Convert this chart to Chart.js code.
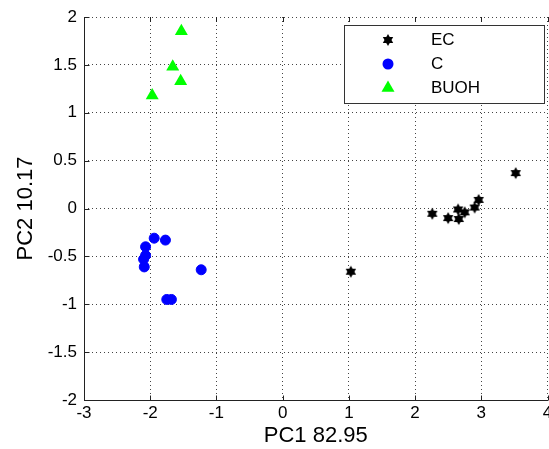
<!DOCTYPE html>
<html>
<head>
<meta charset="utf-8">
<script src="https://cdn.jsdelivr.net/npm/chart.js@4.4.1/dist/chart.umd.min.js"></script>
<style>
  body { margin: 0; background: #fff; }
  /* the reference is cropped on the right, the "4" label is cut off */
  #wrap { width: 549px; height: 449px; overflow: hidden; }
</style>
</head>
<body>
<div id="wrap"><canvas id="chart" width="555" height="449"></canvas></div>
<script>
const seriesNames = ['EC', 'C', 'BUOH'];

const ecX = [1.03, 2.26, 2.50, 2.65, 2.66, 2.75, 2.90, 2.96, 3.52];
const ecY = [-0.66, -0.055, -0.10, -0.01, -0.11, -0.04, 0.01, 0.09, 0.37];

const cX = [-1.94, -1.77, -2.07, -2.07, -2.10, -2.09, -1.23, -1.75, -1.68];
const cY = [-0.31, -0.33, -0.40, -0.49, -0.53, -0.61, -0.64, -0.95, -0.95];

const buohX = [-1.53, -1.66, -1.54, -1.97];
const buohY = [1.85, 1.48, 1.33, 1.18];

const xTicks = [-3, -2, -1, 0, 1, 2, 3, 4];
const yTicks = [-2, -1.5, -1, -0.5, 0, 0.5, 1, 1.5, 2];
const xTitle = 'PC1 82.95';
const yTitle = 'PC2 10.17';

const FONT = '"Liberation Sans", Arial, sans-serif';
Chart.defaults.font.family = FONT;

// MATLAB style six pointed star
function hexagram(r, color) {
    const size = Math.ceil(r * 2 + 2);
    const c = document.createElement('canvas');
    c.width = size;
    c.height = size;
    const g = c.getContext('2d');
    g.fillStyle = color;
    [0, Math.PI].forEach(off => {
        g.beginPath();
        for (let k = 0; k < 3; k++) {
            const a = off + k * 2 * Math.PI / 3 - Math.PI / 2;
            const px = size / 2 + r * Math.cos(a);
            const py = size / 2 + r * Math.sin(a);
            if (k) g.lineTo(px, py); else g.moveTo(px, py);
        }
        g.closePath();
        g.fill();
    });
    return c;
}

const starImg = hexagram(6, '#000');

function toPoints(xs, ys) {
    return xs.map((x, i) => ({ x: x, y: ys[i] }));
}

function drawMarker(ctx, ds, x, y) {
    ctx.save();
    ctx.fillStyle = ds.backgroundColor;
    if (ds.pointStyle === 'circle') {
        ctx.beginPath();
        ctx.arc(x, y, ds.pointRadius + 0.5, 0, Math.PI * 2);
        ctx.fill();
    } else if (ds.pointStyle === 'triangle') {
        const r = ds.pointRadius;
        ctx.beginPath();
        ctx.moveTo(x, y - r);
        ctx.lineTo(x + r * Math.sin(2 * Math.PI / 3), y + r / 2);
        ctx.lineTo(x - r * Math.sin(2 * Math.PI / 3), y + r / 2);
        ctx.closePath();
        ctx.fill();
    } else {
        const img = ds.pointStyle;
        ctx.drawImage(img, x - img.width / 2, y - img.height / 2);
    }
    ctx.restore();
}

// solid left/bottom axes with small inward ticks, like MATLAB
const matlabAxes = {
    id: 'matlabAxes',
    afterDatasetsDraw(chart) {
        const ctx = chart.ctx, a = chart.chartArea;
        const sx = chart.scales.x, sy = chart.scales.y;
        ctx.save();
        ctx.strokeStyle = '#222';
        ctx.lineWidth = 1;
        ctx.beginPath();
        const L = Math.round(a.left) + 0.5, B = Math.round(a.bottom) + 0.5;
        ctx.moveTo(L, Math.round(a.top));
        ctx.lineTo(L, B);
        ctx.lineTo(Math.round(a.right), B);
        xTicks.forEach(v => {
            const px = Math.round(sx.getPixelForValue(v)) + 0.5;
            ctx.moveTo(px, B); ctx.lineTo(px, B - 5);
            ctx.moveTo(px, a.top); ctx.lineTo(px, a.top + 5);
        });
        yTicks.forEach(v => {
            const py = Math.round(sy.getPixelForValue(v)) + 0.5;
            ctx.moveTo(L, py); ctx.lineTo(L + 5, py);
        });
        ctx.stroke();
        ctx.restore();
    }
};

const boxLegend = {
    id: 'boxLegend',
    afterDraw(chart) {
        const ctx = chart.ctx, a = chart.chartArea;
        const w = 200, h = 78;
        const x0 = Math.round(a.right - w - 4), y0 = Math.round(a.top + 8);
        ctx.save();
        ctx.fillStyle = '#fff';
        ctx.fillRect(x0, y0, w, h);
        ctx.strokeStyle = '#333';
        ctx.lineWidth = 1;
        ctx.strokeRect(x0 + 0.5, y0 + 0.5, w, h);
        ctx.font = '17px ' + FONT;
        ctx.textBaseline = 'middle';
        chart.data.datasets.forEach((ds, i) => {
            const cy = y0 + 15 + i * 24;
            drawMarker(ctx, ds, x0 + 44, cy);
            ctx.fillStyle = '#000';
            ctx.fillText(ds.label, x0 + 87, cy);
        });
        ctx.restore();
    }
};

const dotted = [1, 3];

new Chart(document.getElementById('chart'), {
    type: 'scatter',
    data: {
        datasets: [
            {
                label: seriesNames[0],
                data: toPoints(ecX, ecY),
                pointStyle: starImg,
                backgroundColor: '#000',
                borderColor: '#000',
                pointRadius: 5
            },
            {
                label: seriesNames[1],
                data: toPoints(cX, cY),
                pointStyle: 'circle',
                backgroundColor: '#0000ff',
                borderColor: '#0000ff',
                borderWidth: 1,
                pointRadius: 5
            },
            {
                label: seriesNames[2],
                data: toPoints(buohX, buohY),
                pointStyle: 'triangle',
                backgroundColor: '#00ff00',
                borderColor: '#00ff00',
                borderWidth: 0,
                pointRadius: 7.5
            }
        ]
    },
    options: {
        responsive: false,
        animation: false,
        layout: { padding: { top: 17, right: 3, left: 0, bottom: 0 } },
        plugins: {
            legend: { display: false },
            tooltip: { enabled: false }
        },
        scales: {
            x: {
                type: 'linear',
                min: -3,
                max: 4,
                afterBuildTicks: s => { s.ticks = xTicks.map(v => ({ value: v })); },
                afterFit: s => { s.height = 49; s.paddingLeft = 0; s.paddingRight = 0; },
                grid: { color: '#444', lineWidth: 1, drawTicks: false, borderDash: dotted },
                border: { display: false, dash: dotted },
                ticks: {
                    color: '#000',
                    font: { size: 17 },
                    padding: 3,
                    maxRotation: 0,
                    autoSkip: false,
                    callback: v => String(v)
                },
                title: {
                    display: true,
                    text: xTitle,
                    color: '#000',
                    font: { size: 22 },
                    padding: { top: 0, bottom: 0 }
                }
            },
            y: {
                type: 'linear',
                min: -2,
                max: 2,
                afterBuildTicks: s => { s.ticks = yTicks.map(v => ({ value: v })); },
                afterFit: s => { s.width = 84; s.paddingTop = 0; s.paddingBottom = 0; },
                grid: { color: '#444', lineWidth: 1, drawTicks: false, borderDash: dotted },
                border: { display: false, dash: dotted },
                ticks: {
                    color: '#000',
                    font: { size: 17 },
                    padding: 7,
                    autoSkip: false,
                    callback: v => String(v)
                },
                title: {
                    display: true,
                    text: yTitle,
                    color: '#000',
                    font: { size: 22 },
                    padding: { top: 13, bottom: 0 }
                }
            }
        }
    },
    plugins: [matlabAxes, boxLegend]
});
</script>
</body>
</html>
